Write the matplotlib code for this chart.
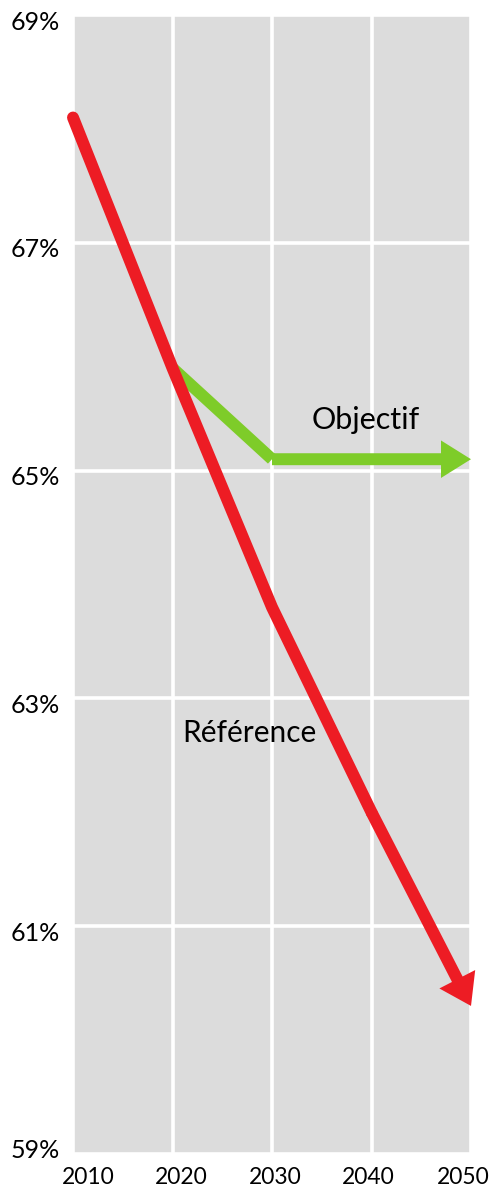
import matplotlib
matplotlib.use("Agg")
import matplotlib.pyplot as plt
from matplotlib.patches import FancyArrowPatch
from matplotlib.transforms import ScaledTranslation

plt.rcParams['font.family'] = ['Lato', 'DejaVu Sans']

# data
years = [2010, 2020, 2030, 2040, 2050]
reference = [68.1, 65.9, 63.8, 62.0, 60.3]
objectif_years = [2020, 2030, 2050]
objectif = [65.9, 65.1, 65.1]
y_ticks = [59, 61, 63, 65, 67, 69]
y_labels = ["59%", "61%", "63%", "65%", "67%", "69%"]
x_labels = ["2010", "2020", "2030", "2040", "2050"]

RED = '#ED1C24'
GREEN = '#7ECC29'

fig = plt.figure(figsize=(4.91, 11.97), dpi=100)
ax = fig.add_axes([73 / 491, 1 - 1154 / 1197, (471 - 73) / 491, (1154 - 15) / 1197])
ax.set_facecolor('#DCDCDC')
ax.set_xlim(2010, 2050)
ax.set_ylim(59, 69)

ax.set_xticks(years)
ax.set_xticklabels(x_labels)
ax.set_yticks(y_ticks)
ax.set_yticklabels(y_labels)
ax.tick_params(length=0, colors='black')
ax.tick_params(axis='y', pad=9.5, labelsize=18)
ax.tick_params(axis='x', pad=9, labelsize=16.5)
ax.grid(True, color='white', lw=2.6)
ax.set_axisbelow(True)
for s in ax.spines.values():
    s.set_visible(False)

# nudge labels like in the original
for lab, dx in zip(ax.get_xticklabels(), [15, 9, 3, -3, -8]):
    lab.set_transform(lab.get_transform() + ScaledTranslation(dx / 100, 0, fig.dpi_scale_trans))
for lab, dy in zip(ax.get_yticklabels(), [6, -5, -5, -5, -5, -5]):
    lab.set_transform(lab.get_transform() + ScaledTranslation(0, dy / 100, fig.dpi_scale_trans))

lw = 8.6

# reference line (red)
ax.plot(years[:4], reference[:4], color=RED, lw=lw, solid_capstyle='round',
        solid_joinstyle='miter', clip_on=False, zorder=3)
ax.add_patch(FancyArrowPatch((years[3], reference[3]), (years[4], reference[4]),
                             arrowstyle='simple,head_length=21.6,head_width=29,tail_width=8.6',
                             mutation_scale=1, color=RED, lw=0, shrinkA=0, shrinkB=0,
                             clip_on=False, zorder=3))

# objectif line (green)
ax.plot(objectif_years[:2], objectif[:2], color=GREEN, lw=lw, solid_capstyle='butt',
        solid_joinstyle='round', zorder=2)
ax.add_patch(FancyArrowPatch((objectif_years[1], objectif[1]), (objectif_years[2], objectif[2]),
                             arrowstyle='simple,head_length=21.6,head_width=27,tail_width=8.6',
                             mutation_scale=1, color=GREEN, lw=0, shrinkA=0, shrinkB=0,
                             clip_on=False, zorder=2))

ax.text(2039.4, 65.44, "Objectif", fontsize=22, ha='center', va='center')
ax.text(2027.7, 62.70, "Référence", fontsize=21.5, ha='center', va='center')

fig.savefig('out.png', dpi=100)
